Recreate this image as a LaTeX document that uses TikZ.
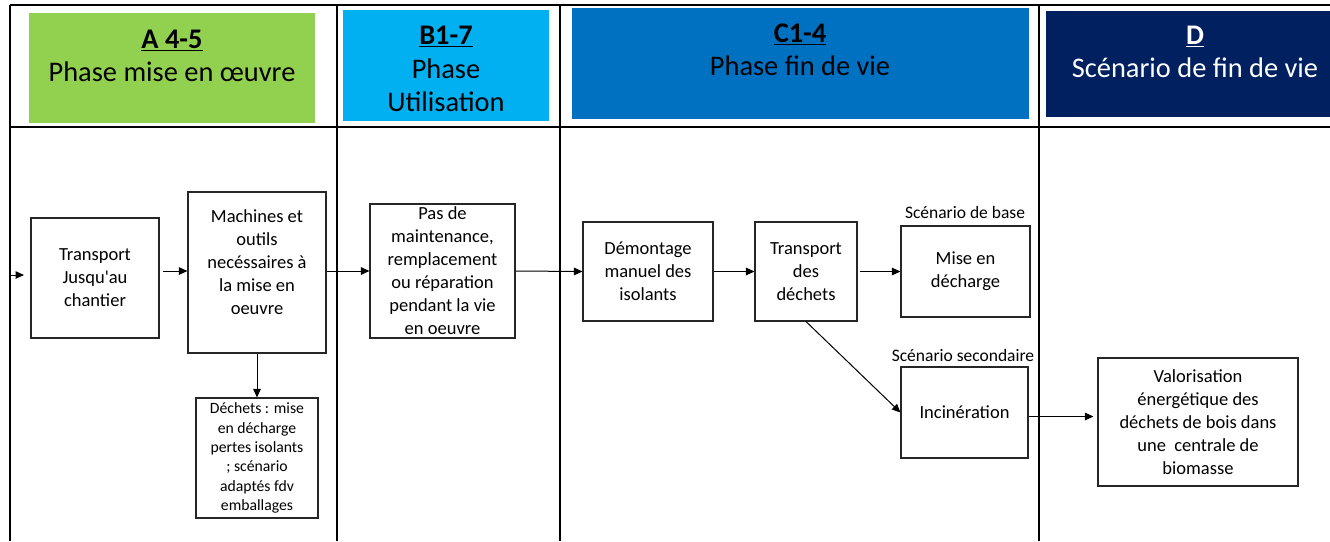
\documentclass[tikz,border=0pt]{standalone}
\usepackage{fontspec}
\setmainfont{Carlito}
\usetikzlibrary{arrows.meta,calc}
\definecolor{cA}{HTML}{92D050}
\definecolor{cB}{HTML}{00B0F0}
\definecolor{cC}{HTML}{0070C0}
\definecolor{cD}{HTML}{002060}
\tikzset{
  hdr/.style={rectangle, inner sep=0pt, draw=none},
  htext/.style={align=center, inner sep=0pt, font=\fontsize{28.4}{33.5}\selectfont},
  box/.style={rectangle, draw=black!85, line width=1.1pt, inner sep=0pt, align=center, font=\fontsize{18.5}{23}\selectfont},
  smallbox/.style={box, font=\fontsize{15.7}{19.3}\selectfont},
  lbl/.style={inner sep=0pt, font=\fontsize{17.5}{20}\selectfont},
  tbl/.style={line width=1.3pt, black},
  tblthick/.style={line width=2pt, black},
  arr/.style={line width=1pt, black, -{Triangle[length=8.5pt,width=7.5pt]}},
}
\begin{document}
\begin{tikzpicture}[x=1pt,y=-1pt]
\useasboundingbox (0,0) rectangle (1330,541);
% header fills
\node[hdr, fill=cA, minimum width=286, minimum height=110] (hA) at (172,68) {};
\node[hdr, fill=cB, minimum width=206, minimum height=111] (hB) at (446,65.5) {};
\node[hdr, fill=cC, minimum width=457, minimum height=111] (hC) at (800.5,63.5) {};
\node[hdr, fill=cD, minimum width=284, minimum height=106] (hD) at (1188,64) {};
\node[htext] (tA) at (172,56) {\underline{\textbf{A 4-5}}\\Phase mise en œuvre};
\node[htext] (tB) at (446,69) {\underline{\textbf{B1-7}}\\Phase\\Utilisation};
\node[htext] (tC) at (800,50) {\underline{\textbf{C1-4}}\\Phase fin de vie};
\node[htext, text=white] (tD) at (1195,52) {\underline{\textbf{D}}\\Scénario de fin de vie};
% table lines
\draw[tbl] (10,5) -- (1330,5);
\draw[tbl] (10,127) -- (1330,127);
\draw[tbl] (10,5) -- (10,541);
\draw[tblthick] (337,5) -- (337,541);
\draw[tblthick] (560,5) -- (560,541);
\draw[tbl] (1039,5) -- (1039,541);
% body boxes
\node[box, minimum width=128, minimum height=120] (t1) at (95,278) {Transport\\Jusqu\textquotesingle au\\chantier};
\node[box, minimum width=138, minimum height=161] (m1) at (257,272.5) {};
\node[align=center, inner sep=0pt, font=\fontsize{18.5}{23}\selectfont] (m1t) at (257,262.5) {Machines et\\outils\\necéssaires à\\la mise en\\oeuvre};
\node[smallbox, minimum width=122, minimum height=120] (dch) at (257,458) {Déchets : mise\\en décharge\\pertes isolants\\; scénario\\adaptés fdv\\emballages};
\node[box, minimum width=145, minimum height=134] (pas) at (442.5,271) {Pas de\\maintenance,\\remplacement\\ou réparation\\pendant la vie\\en oeuvre};
\node[box, minimum width=130, minimum height=99] (dm) at (648,271.5) {Démontage\\manuel des\\isolants};
\node[box, minimum width=102, minimum height=99] (td) at (806,271.5) {Transport\\des\\déchets};
\node[box, minimum width=129, minimum height=91] (md) at (965.5,271.5) {Mise en\\décharge};
\node[box, minimum width=127, minimum height=91] (inc) at (964.5,412.5) {Incinération};
\node[box, minimum width=200, minimum height=128] (val) at (1198,422) {Valorisation\\énergétique des\\déchets de bois dans\\une\ \ centrale de\\biomasse};
\node[lbl] (lb1) at (965,212) {Scénario de base};
\node[lbl] (lb2) at (963,355) {Scénario secondaire};
% connectors
\coordinate (s0) at (10,275);
\coordinate (s1) at (24,275);
\draw[arr] (s0) -- (s1);
\draw[arr] ([xshift=3pt,yshift=7pt]t1.east) -- ([yshift=7pt]t1.east -| m1.west);
\draw[arr] (m1.east |- pas.west) -- (pas.west);
\draw[arr] (m1.south) -- (dch.north);
\draw[arr] (pas.east) -- (dm.west);
\draw[arr] (dm.east) -- (td.west);
\draw[arr] ([xshift=2pt]td.east) -- (md.west);
\draw[arr] (td.south) -- (inc.west);
\draw[arr, shorten >=4pt] ([yshift=-4pt]inc.east) -- ([yshift=-4pt]inc.east -| val.west);
\end{tikzpicture}
\end{document}
